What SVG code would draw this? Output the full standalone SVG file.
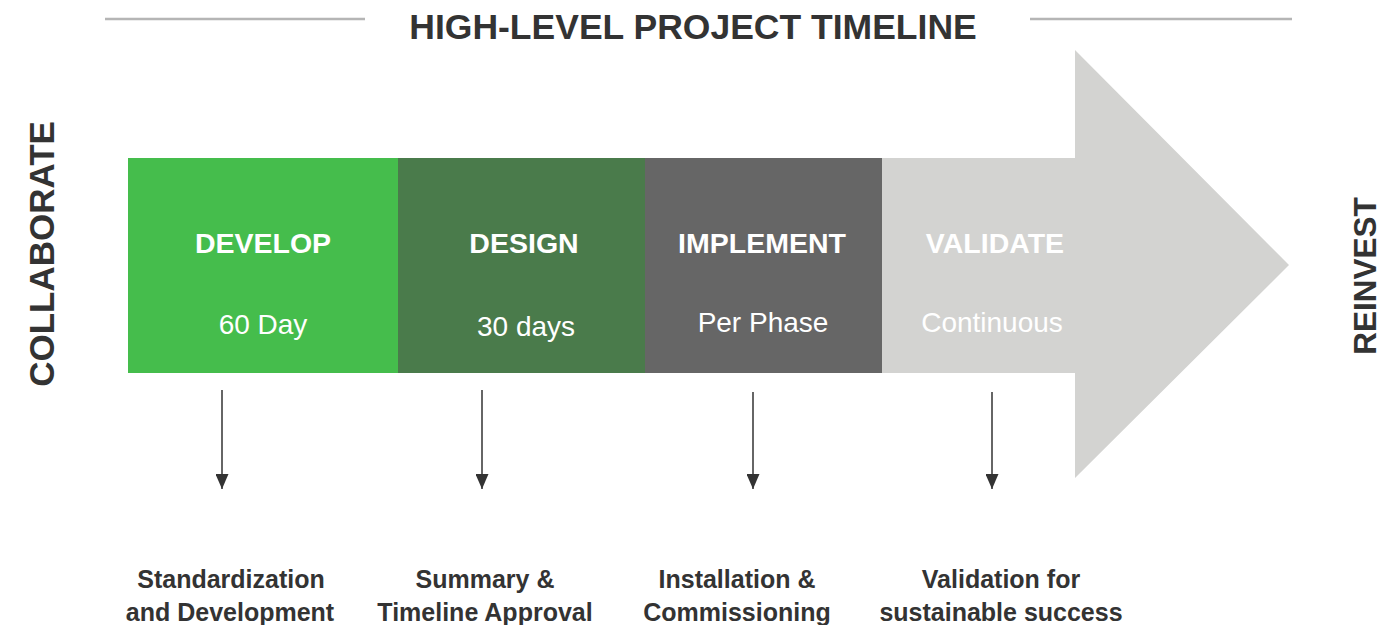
<svg xmlns="http://www.w3.org/2000/svg" width="1389" height="625" viewBox="0 0 1389 625">
<style>
.title{font-family:"Liberation Sans",Arial,sans-serif;font-weight:bold;font-size:35.5px;fill:#333333;text-anchor:middle}
.side{font-family:"Liberation Sans",Arial,sans-serif;font-weight:bold;fill:#333333;text-anchor:middle}
.phase{font-family:"Liberation Sans",Arial,sans-serif;font-weight:bold;font-size:28.5px;fill:#ffffff;text-anchor:middle}
.dur{font-family:"Liberation Sans",Arial,sans-serif;font-size:28px;fill:#ffffff;text-anchor:middle}
.lbl{font-family:"Liberation Sans",Arial,sans-serif;font-weight:bold;font-size:25px;fill:#333333;text-anchor:middle}
.conn{stroke:#333333;stroke-width:1.5;fill:none}
.rule{stroke:#b5b5b5;stroke-width:2.5}
</style>
<defs>
<marker id="ah" markerWidth="15" markerHeight="13" refX="15" refY="6.5" orient="auto" markerUnits="userSpaceOnUse">
<path d="M0,0 L15,6.5 L0,13 Z" fill="#333333"/>
</marker>
</defs>
<rect width="1389" height="625" fill="#ffffff"/>
<g id="title">
<line class="rule" x1="105" y1="19" x2="365" y2="19"/>
<line class="rule" x1="1030" y1="19" x2="1292" y2="19"/>
<text class="title" x="693" y="39">HIGH-LEVEL PROJECT TIMELINE</text>
</g>
<g id="big-arrow">
<polygon points="128,158 1075,158 1075,50 1289,265 1075,478 1075,373 128,373" fill="#d3d3d1"/>
</g>
<g id="develop">
<rect x="128" y="158" width="270" height="215" fill="#45bd4c"/>
<text class="phase" x="263" y="253">DEVELOP</text>
<text class="dur" x="263" y="334">60 Day</text>
</g>
<g id="design">
<rect x="398" y="158" width="247" height="215" fill="#4a7b4b"/>
<text class="phase" x="524" y="253">DESIGN</text>
<text class="dur" x="526" y="336">30 days</text>
</g>
<g id="implement">
<rect x="645" y="158" width="237" height="215" fill="#666666"/>
<text class="phase" x="762" y="253">IMPLEMENT</text>
<text class="dur" x="763" y="332">Per Phase</text>
</g>
<g id="validate">
<text class="phase" x="995" y="253">VALIDATE</text>
<text class="dur" x="992" y="332">Continuous</text>
</g>
<g id="collaborate">
<text class="side" font-size="35" transform="translate(54,254) rotate(-90)">COLLABORATE</text>
</g>
<g id="reinvest">
<text class="side" font-size="31.5" transform="translate(1376,276) rotate(-90)">REINVEST</text>
</g>
<g id="connectors">
<line class="conn" x1="222" y1="390" x2="222" y2="489" marker-end="url(#ah)"/>
<line class="conn" x1="482" y1="390" x2="482" y2="489" marker-end="url(#ah)"/>
<line class="conn" x1="753" y1="392" x2="753" y2="489" marker-end="url(#ah)"/>
<line class="conn" x1="992" y1="392" x2="992" y2="489" marker-end="url(#ah)"/>
</g>
<g id="outcome-develop">
<text class="lbl" x="231" y="588">Standardization</text>
<text class="lbl" x="230" y="621">and Development</text>
</g>
<g id="outcome-design">
<text class="lbl" x="485" y="588">Summary &amp;</text>
<text class="lbl" x="485" y="621">Timeline Approval</text>
</g>
<g id="outcome-implement">
<text class="lbl" x="737" y="588">Installation &amp;</text>
<text class="lbl" x="737" y="621">Commissioning</text>
</g>
<g id="outcome-validate">
<text class="lbl" x="1001" y="588">Validation for</text>
<text class="lbl" x="1001" y="621">sustainable success</text>
</g>
</svg>
